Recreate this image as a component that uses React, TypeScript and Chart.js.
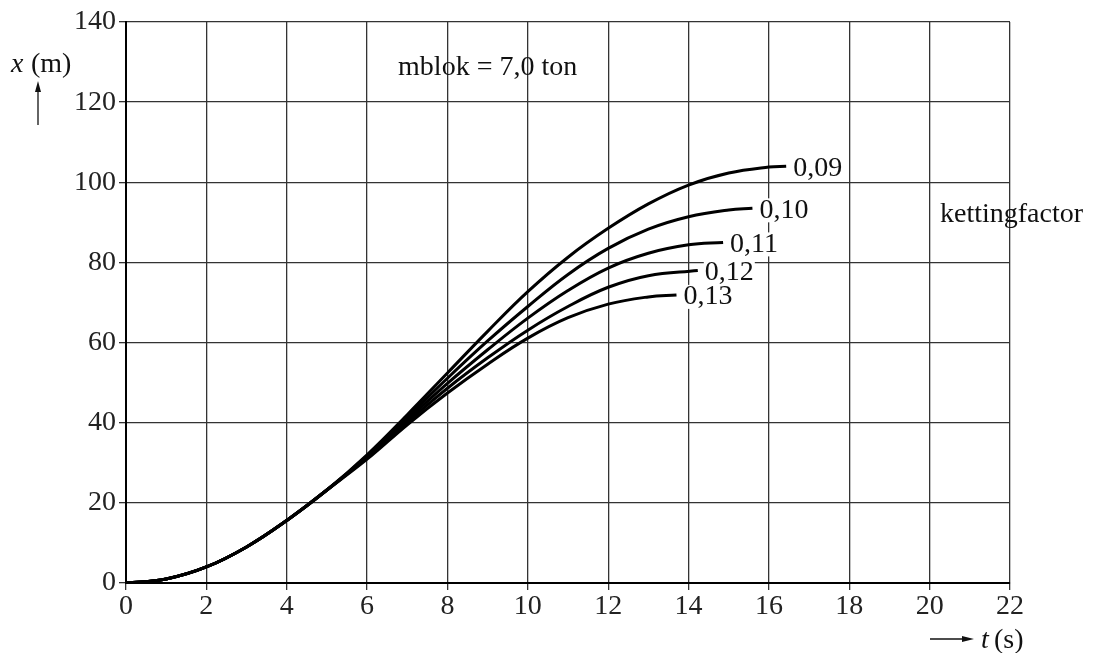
import React, { useEffect, useRef } from "react";
import { Chart, registerables } from "chart.js";

Chart.register(...registerables);

const factorLabels = ["0,09", "0,10", "0,11", "0,12", "0,13"];

const t09 = [0, 1, 2, 3, 4, 5, 6, 7, 8, 9, 10, 11, 12, 13, 14, 15, 16, 16.43];
const x09 = [0, 1.0, 4.0, 9.0, 15.6, 23.2, 32.0, 42.0, 52.4, 62.8, 72.7, 81.3, 88.5, 94.6, 99.3, 102.3, 103.8, 104.0];

const t10 = [0, 1, 2, 3, 4, 5, 6, 7, 8, 9, 10, 11, 12, 13, 14, 15, 15.59];
const x10 = [0, 1.0, 4.0, 9.0, 15.6, 23.2, 31.8, 41.3, 51.1, 60.4, 69.0, 77.0, 83.5, 88.3, 91.4, 93.1, 93.5];

const t11 = [0, 1, 2, 3, 4, 5, 6, 7, 8, 9, 10, 11, 12, 13, 14, 14.86];
const x11 = [0, 1.0, 4.0, 9.0, 15.6, 23.2, 31.5, 40.7, 49.8, 58.2, 66.1, 73.0, 78.6, 82.3, 84.4, 85.0];

const t12 = [0, 1, 2, 3, 4, 5, 6, 7, 8, 9, 10, 11, 12, 13, 14.23];
const x12 = [0, 1.0, 4.0, 9.0, 15.6, 23.2, 31.2, 40.1, 48.6, 56.2, 63.1, 69.0, 73.8, 76.7, 78.0];

const t13 = [0, 1, 2, 3, 4, 5, 6, 7, 8, 9, 10, 11, 12, 13, 13.7];
const x13 = [0, 1.0, 4.0, 9.0, 15.6, 23.2, 30.9, 39.5, 47.4, 54.6, 61.1, 66.2, 69.6, 71.4, 71.9];

const seriesT = [t09, t10, t11, t12, t13];
const seriesX = [x09, x10, x11, x12, x13];

const xTicks = [0, 2, 4, 6, 8, 10, 12, 14, 16, 18, 20, 22];
const yTicks = [0, 20, 40, 60, 80, 100, 120, 140];

const massText = "mblok = 7,0 ton";
const massPos = { t: 9.0, x: 128.5 };
const legendTitle = "kettingfactor";

const SERIF = "'Liberation Serif', 'DejaVu Serif', serif";
const FS = 28;

export default function App() {
  const ref = useRef<HTMLCanvasElement | null>(null);

  useEffect(() => {
    if (!ref.current) return;

    const annot = {
      id: "annot",
      afterDatasetsDraw(chart: any) {
        const ctx = chart.ctx;
        const xs = chart.scales.x;
        const ys = chart.scales.y;
        ctx.save();
        ctx.fillStyle = "#111";
        ctx.font = `${FS}px ${SERIF}`;
        ctx.textBaseline = "middle";
        // curve labels
        seriesT.forEach((ts, i) => {
          const xv = seriesX[i];
          const px = xs.getPixelForValue(ts[ts.length - 1]) + 7;
          const py = ys.getPixelForValue(xv[xv.length - 1]) + 2;
          const w = ctx.measureText(factorLabels[i]).width;
          ctx.fillStyle = "#fff";
          ctx.fillRect(px - 1, py - 12, w + 2, 24);
          ctx.fillStyle = "#111";
          ctx.textAlign = "left";
          ctx.fillText(factorLabels[i], px, py);
        });
        // mass text
        ctx.textAlign = "center";
        ctx.fillText(massText, xs.getPixelForValue(massPos.t), ys.getPixelForValue(massPos.x));
        // legend title
        ctx.textAlign = "left";
        ctx.fillText(legendTitle, 940, 215);

        // y axis title: x (m)
        ctx.textBaseline = "alphabetic";
        ctx.font = `italic ${FS}px ${SERIF}`;
        ctx.fillText("x", 11, 72);
        ctx.font = `${FS}px ${SERIF}`;
        ctx.fillText("(m)", 31, 72);
        // up arrow
        ctx.strokeStyle = "#111";
        ctx.lineWidth = 1.3;
        ctx.beginPath();
        ctx.moveTo(38, 125);
        ctx.lineTo(38, 88);
        ctx.stroke();
        ctx.beginPath();
        ctx.moveTo(38, 81);
        ctx.lineTo(35, 92);
        ctx.lineTo(41, 92);
        ctx.closePath();
        ctx.fill();

        // x axis title: t (s)
        ctx.beginPath();
        ctx.moveTo(930, 639);
        ctx.lineTo(966, 639);
        ctx.stroke();
        ctx.beginPath();
        ctx.moveTo(974, 639);
        ctx.lineTo(962, 636);
        ctx.lineTo(962, 642);
        ctx.closePath();
        ctx.fill();
        ctx.font = `italic ${FS}px ${SERIF}`;
        ctx.fillText("t", 981, 648);
        ctx.font = `${FS}px ${SERIF}`;
        ctx.fillText("(s)", 994, 648);
        ctx.restore();
      },
    };

    const chart = new Chart(ref.current, {
      type: "scatter",
      data: {
        datasets: seriesT.map((ts, i) => ({
          label: factorLabels[i],
          data: ts.map((t, j) => ({ x: t, y: seriesX[i][j] })),
          showLine: true,
          borderColor: "#000",
          borderWidth: 3,
          pointRadius: 0,
          tension: 0.4,
          fill: false,
        })),
      },
      plugins: [annot],
      options: {
        animation: false,
        responsive: false,
        maintainAspectRatio: false,
        layout: { padding: { left: 0, right: 85, top: 22, bottom: 0 } },
        plugins: { legend: { display: false }, tooltip: { enabled: false } },
        scales: {
          x: {
            type: "linear",
            min: 0,
            max: 22,
            afterBuildTicks: (s: any) => {
              s.ticks = xTicks.map((v) => ({ value: v }));
            },
            afterFit: (s: any) => {
              s.height = 70;
            },
            grid: { color: "#333", lineWidth: 1.3, tickLength: 7, drawTicks: true },
            border: { color: "#000", width: 2 },
            ticks: {
              color: "#222",
              padding: 0,
              maxRotation: 0,
              font: { family: SERIF, size: FS },
            },
          },
          y: {
            type: "linear",
            min: 0,
            max: 140,
            afterBuildTicks: (s: any) => {
              s.ticks = yTicks.map((v) => ({ value: v }));
            },
            afterFit: (s: any) => {
              s.width = 126;
            },
            grid: { color: "#333", lineWidth: 1.3, tickLength: 7, drawTicks: true },
            border: { color: "#000", width: 2 },
            ticks: {
              color: "#222",
              padding: 3,
              font: { family: SERIF, size: FS },
            },
          },
        },
      },
    });
    return () => chart.destroy();
  }, []);

  return (
    <div style={{ position: "absolute", left: 0, top: 0, width: 1095, height: 653, background: "#fff" }}>
      <canvas ref={ref} width={1095} height={653} style={{ width: 1095, height: 653 }} />
    </div>
  );
}
